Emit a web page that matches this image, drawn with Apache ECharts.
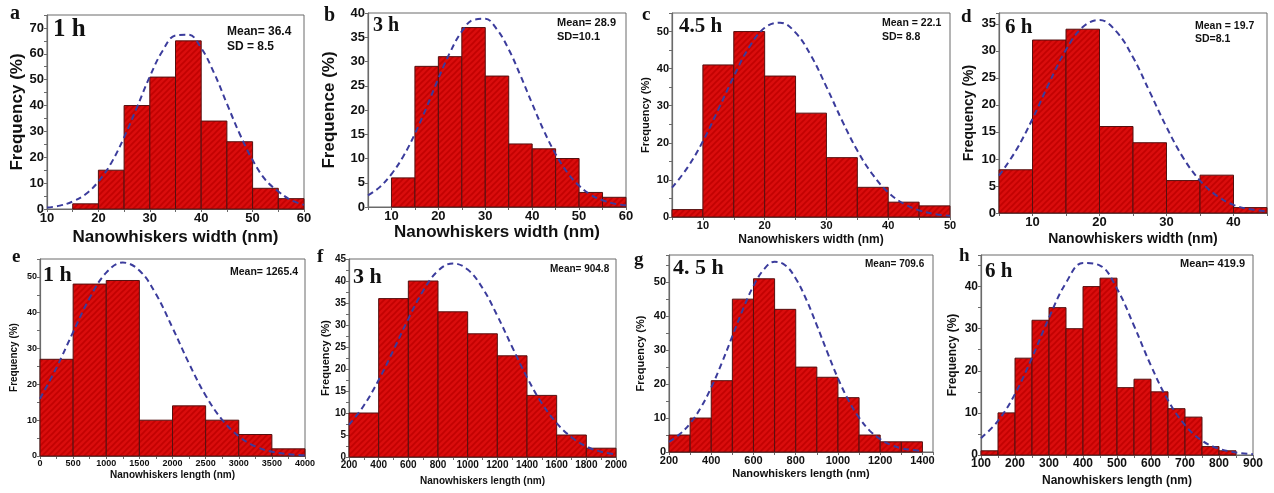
<!DOCTYPE html>
<html><head><meta charset="utf-8">
<script src="https://cdn.jsdelivr.net/npm/echarts@6/dist/echarts.min.js"></script>
<style>html,body{margin:0;padding:0;background:#fff}#c{width:1274px;height:493px}</style>
</head><body><div id="c"></div>
<script>
// ---------- DATA ----------
// (a) 1 h width
const aEdges = [15,20,25,30,35,40,45,50,55,60];
const aFreq  = [2,15,40,51,65,34,26,8,4];
const aFitX  = [10,12.5,15,17.5,20,22.5,25,27.5,30,32.5,35,37.5,40,42.5,45,47.5,50,52.5,55,57.5,60];
const aFitY  = [0.55,1.3,2.9,5.7,10.6,17.8,27.7,39.3,51.2,61.2,67.1,67.4,62.2,52.6,40.7,29.0,18.9,11.3,6.8,3.4,1.6];
// (b) 3 h width
const bEdges = [10,15,20,25,30,35,40,45,50,55,60];
const bFreq  = [6,29,31,37,27,13,12,10,3,2];
const bFitX  = [5,7.5,10,12.5,15,17.5,20,22.5,25,27.5,30,32.5,35,37.5,40,42.5,45,47.5,50,52.5,55,57.5,60];
const bFitY  = [2.4,4.1,6.8,10.4,15.1,20.6,26.5,31.9,36.2,38.6,38.8,36.6,32.5,27.1,21.3,15.7,10.9,7.1,4.4,2.5,1.4,0.7,0.34];
// (c) 4.5 h width
const cEdges = [5,10,15,20,25,30,35,40,45,50];
const cFreq  = [2,41,50,38,28,16,8,4,3];
const cFitX  = [5,7.5,10,12.5,15,17.5,20,22.5,25,27.5,30,32.5,35,37.5,40,42.5,45,47.5,50];
const cFitY  = [7.9,13.3,20.4,29.0,37.9,45.8,51.0,52.4,49.7,43.5,35.1,26.1,17.9,11.4,6.6,3.6,1.8,0.8,0.35];
// (d) 6 h width
const dEdges = [5,10,15,20,25,30,35,40,45];
const dFreq  = [8,32,34,16,13,6,7,1];
const dFitX  = [5,7.5,10,12.5,15,17.5,20,22.5,25,27.5,30,32.5,35,37.5,40,42.5,45];
const dFitY  = [6.9,11.5,17.4,24.1,30.2,34.4,35.7,33.6,28.8,22.4,15.9,10.2,6.0,3.2,1.5,0.7,0.3];
// (e) 1 h length
const eEdges = [0,500,1000,1500,2000,2500,3000,3500,4000];
const eFreq  = [27,48,49,10,14,10,6,2];
const eFitX  = [0,250,500,750,1000,1250,1500,1750,2000,2250,2500,2750,3000,3250,3500,3750,4000];
const eFitY  = [16.0,24.7,34.6,44.1,51.2,54.0,51.8,45.2,35.8,25.8,16.9,10.1,5.5,2.7,1.2,0.5,0.2];
// (f) 3 h length
const fEdges = [200,400,600,800,1000,1200,1400,1600,1800,2000];
const fFreq  = [10,36,40,33,28,23,14,5,2];
const fFitX  = [200,300,400,500,600,700,800,900,1000,1100,1200,1300,1400,1500,1600,1700,1800,1900,2000];
const fFitY  = [7.3,11.7,17.5,24.3,31.4,37.8,42.3,44.0,42.6,38.4,32.1,25.0,18.1,12.2,7.7,4.5,2.4,1.2,0.6];
// (g) 4.5 h length
const gEdges = [200,300,400,500,600,700,800,900,1000,1100,1200,1300,1400];
const gFreq  = [5,10,21,45,51,42,25,22,16,5,3,3];
const gFitX  = [200,250,300,350,400,450,500,550,600,650,700,750,800,850,900,950,1000,1050,1100,1150,1200,1250,1300,1350,1400];
const gFitY  = [3.0,5.2,8.4,13.0,19.0,26.2,34.1,42.0,48.9,53.8,56.0,55.0,51.1,44.9,37.3,29.3,21.7,15.2,10.1,6.3,3.8,2.1,1.1,0.6,0.3];
// (h) 6 h length
const hEdges = [100,150,200,250,300,350,400,450,500,550,600,650,700,750,800,850];
const hFreq  = [1,10,23,32,35,30,40,42,16,18,15,11,9,2,1];
const hFitX  = [100,150,200,250,300,350,400,450,500,550,600,650,700,750,800,850,900];
const hFitY  = [4.0,8.1,14.5,23.1,32.6,40.9,45.6,45.0,39.5,30.7,21.2,13.0,7.1,3.4,1.5,0.6,0.2];

const panelLetters = ['a','b','c','d','e','f','g','h'];
const timeLabels   = ['1 h','3 h','4.5 h','6 h','1 h','3 h','4. 5 h','6 h'];
const statLabels   = ['Mean= 36.4\nSD = 8.5','Mean= 28.9\nSD=10.1','Mean = 22.1\nSD= 8.8','Mean = 19.7\nSD=8.1',
                      'Mean= 1265.4','Mean= 904.8','Mean= 709.6','Mean= 419.9'];
const xTitles = ['Nanowhiskers width (nm)','Nanowhiskers width (nm)','Nanowhiskers width (nm)','Nanowhiskers width (nm)',
                 'Nanowhiskers length (nm)','Nanowhiskers length (nm)','Nanowhiskers length (nm)','Nanowhiskers length (nm)'];
const yTitles = ['Frequency (%)','Frequence (%)','Frequency (%)','Frequency (%)','Frequency (%)','Frequency (%)','Frequency (%)','Frequency (%)'];

const hist = [[aEdges,aFreq,aFitX,aFitY],[bEdges,bFreq,bFitX,bFitY],[cEdges,cFreq,cFitX,cFitY],[dEdges,dFreq,dFitX,dFitY],
              [eEdges,eFreq,eFitX,eFitY],[fEdges,fFreq,fFitX,fFitY],[gEdges,gFreq,gFitX,gFitY],[hEdges,hFreq,hFitX,hFitY]];

// ---------- LAYOUT / STYLE ----------
const L = [
 {g:[47,15,257,194],  x:[10,60,5,10],     y:[0,75,5,10],  tf:13, xn:17, yn:17, xg:20, yg:21,
  letter:[10,4,20], time:[53,17,25], stat:[227,24,12,15]},
 {g:[368,13,258,194], x:[5,60,5,10],      y:[0,40,5,5],   tf:13, xn:17, yn:17, xg:9, yg:30,
  letter:[324,6,20], time:[373,16,20], stat:[557,16,11,14]},
 {g:[672,13,278,204], x:[5,50,5,10],      y:[0,55,5,10],  tf:11, xn:12, yn:11, xg:17, yg:21,
  letter:[642,6,19], time:[679,16,21], stat:[882,16,10.5,14]},
 {g:[999,13,268,200], x:[5,45,5,10],      y:[0,37,5,5],   tf:13, xn:14, yn:14, xg:19, yg:23,
  letter:[961,8,19], time:[1005,17,21], stat:[1195,20,10.5,13]},
 {g:[40,259,265,197], x:[0,4000,250,500], y:[0,55,5,10],  tf:9,  xn:10, yn:10, xg:14, yg:21,
  letter:[12,248,19], time:[43,264,22], stat:[230,266,10.5,13]},
 {g:[349,259,267,198],x:[200,2000,100,200],y:[0,45,2.5,5],tf:10, xn:10, yn:11, xg:19, yg:17,
  letter:[317,248,19], time:[353,266,22], stat:[550,263,10,13]},
 {g:[669,255,264,197],x:[200,1450,100,200],y:[0,58,5,10], tf:11, xn:11, yn:11, xg:16, yg:23,
  letter:[634,251,19], time:[673,257,22], stat:[865,258,10,13]},
 {g:[981,255,272,200],x:[100,900,50,100], y:[0,47.5,5,10],tf:12, xn:12, yn:12, xg:20, yg:22,
  letter:[959,247,19], time:[985,261,21], stat:[1180,257,11,13]}
];

function makePattern(){
  const c = document.createElement('canvas'); c.width = 6; c.height = 6;
  const g = c.getContext('2d');
  g.fillStyle = '#d90d0d'; g.fillRect(0,0,6,6);
  g.strokeStyle = '#c20202'; g.lineWidth = 1.6;
  g.beginPath();
  g.moveTo(-2,8); g.lineTo(8,-2);
  g.moveTo(-2,2); g.lineTo(2,-2);
  g.moveTo(4,8); g.lineTo(8,4);
  g.stroke();
  return c;
}
const pat = makePattern();

function fmt(every){
  return function(v){
    const r = v/every;
    return Math.abs(r-Math.round(r)) < 1e-6 ? String(Math.round(v*100)/100) : '';
  };
}

const grids=[], xAxes=[], yAxes=[], series=[], graphics=[];
const FONT = 'Liberation Sans, Arial, sans-serif';
const AX = '#6a6a6a';
L.forEach((p,i)=>{
  grids.push({left:p.g[0], top:p.g[1], width:p.g[2], height:p.g[3], show:true, borderColor:AX, borderWidth:1, backgroundColor:'#fff', containLabel:false});
  xAxes.push({type:'value', gridIndex:i, min:p.x[0], max:p.x[1], interval:p.x[2],
    axisLine:{show:true, onZero:false, lineStyle:{color:AX, width:1.2}},
    axisTick:{show:true, inside:false, length:3, lineStyle:{color:AX}},
    splitLine:{show:false},
    axisLabel:{formatter:fmt(p.x[3]), color:'#111', fontSize:p.tf, fontWeight:'bold', fontFamily:FONT, margin:3, hideOverlap:false},
    name:xTitles[i], nameLocation:'middle', nameGap:p.xg,
    nameTextStyle:{color:'#111', fontSize:p.xn, fontWeight:'bold', fontFamily:FONT}
  });
  yAxes.push({type:'value', gridIndex:i, min:p.y[0], max:p.y[1], interval:p.y[2],
    axisLine:{show:true, onZero:false, lineStyle:{color:AX, width:1.2}},
    axisTick:{show:true, inside:false, length:3, lineStyle:{color:AX}},
    splitLine:{show:false},
    axisLabel:{formatter:fmt(p.y[3]), color:'#111', fontSize:p.tf, fontWeight:'bold', fontFamily:FONT, margin:3, hideOverlap:false},
    name:yTitles[i], nameLocation:'middle', nameGap:p.yg, nameRotate:90,
    nameTextStyle:{color:'#111', fontSize:p.yn, fontWeight:'bold', fontFamily:FONT}
  });
  const [edges,freq,fx,fy] = hist[i];
  const bars = freq.map((f,k)=>[edges[k], edges[k+1], f]);
  series.push({type:'custom', xAxisIndex:i, yAxisIndex:i, data:bars, encode:{x:[0,1], y:2}, z:2, silent:true,
    renderItem:function(params, api){
      const p0 = api.coord([api.value(0), api.value(2)]);
      const p1 = api.coord([api.value(1), 0]);
      return {type:'rect', shape:{x:p0[0], y:p0[1], width:p1[0]-p0[0], height:p1[1]-p0[1]},
        style:{fill:{image:pat, repeat:'repeat'}, stroke:'#551010', lineWidth:1}};
    }});
  series.push({type:'line', xAxisIndex:i, yAxisIndex:i, data:fx.map((x,k)=>[x, fy[k]]), smooth:0.4, symbol:'none', z:5, silent:true,
    lineStyle:{color:'#3b3c9c', width:2, type:[6,4]}});
  graphics.push({type:'text', left:p.letter[0], top:p.letter[1], z:10,
    style:{text:panelLetters[i], font:'bold '+p.letter[2]+'px "Liberation Serif", "Times New Roman", serif', fill:'#111'}});
  graphics.push({type:'text', left:p.time[0], top:p.time[1], z:10,
    style:{text:timeLabels[i], font:'bold '+p.time[2]+'px "Liberation Serif", "Times New Roman", serif', fill:'#111'}});
  graphics.push({type:'text', left:p.stat[0], top:p.stat[1], z:10,
    style:{text:statLabels[i], font:'bold '+p.stat[2]+'px "Liberation Sans", Arial, sans-serif', fill:'#111', lineHeight:p.stat[3]}});
});

const chart = echarts.init(document.getElementById('c'), null, {renderer:'canvas'});
chart.setOption({animation:false, backgroundColor:'#fff', grid:grids, xAxis:xAxes, yAxis:yAxes, series:series, graphic:graphics});
</script></body></html>
